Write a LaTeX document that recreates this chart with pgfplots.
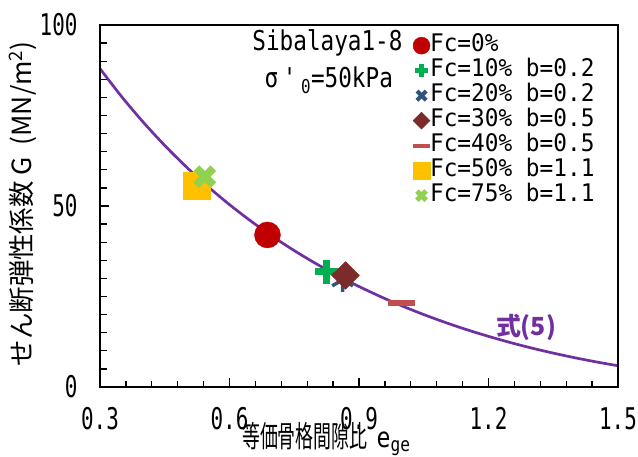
\documentclass[border=0pt]{standalone}
\usepackage{fontspec}
\setmainfont{Noto Sans CJK JP}
\newfontfamily\tickfont{DejaVu Sans Mono}[FakeStretch=0.70]
\newfontfamily\legfont{DejaVu Sans Mono}[FakeStretch=0.94]
\newfontfamily\annfont{DejaVu Sans Mono}[FakeStretch=0.83]
\newfontfamily\jpx{Noto Sans CJK JP}[FakeStretch=0.60]
\newfontfamily\jp{Noto Sans CJK JP}
\usepackage{pgfplots}
\pgfplotsset{compat=1.18}
\definecolor{cRed}{HTML}{C00000}
\definecolor{cGreen}{HTML}{00B050}
\definecolor{cBlue}{HTML}{2F547E}
\definecolor{cBrown}{HTML}{7B2C2A}
\definecolor{cDash}{HTML}{C0504D}
\definecolor{cGold}{HTML}{FFC000}
\definecolor{cLime}{HTML}{92D050}
\definecolor{cPurple}{HTML}{7030A0}
\begin{document}
\begin{tikzpicture}
\begin{axis}[
  scale only axis, width=518bp, height=362bp,
  xmin=0.3, xmax=1.5, ymin=0, ymax=100,
  axis on top,
  xtick={0.3,0.6,0.9,1.2,1.5},
  xticklabels={0.3,0.6,0.9,1.2,1.5},
  ytick={0,50,100}, yticklabels={0,50,100},
  minor x tick num=4, minor y tick num=9,
  tick align=inside, tick pos=left,
  major tick length=9bp, minor tick length=6bp,
  axis line style={line width=1.6bp},
  every tick/.append style={black, line width=1.3bp},
  ticklabel style={font=\tickfont\fontsize{30}{32}\selectfont},
  yticklabel style={xshift=-19bp},
  xticklabel style={yshift=-17bp},
  xlabel={\jpx\fontsize{30}{32}\selectfont 等価骨格間隙比\hspace{0.3em}{\annfont\fontsize{28}{30}\selectfont e\textsubscript{ge}}},
  ylabel={\jp\fontsize{26.5}{28}\selectfont せん断弾性係数\ G\ \ (MN/m\textsuperscript{2})},
  xlabel style={at={(rel axis cs:0.274,-0.1685)},anchor=base west, inner sep=0pt},
  ylabel style={at={(rel axis cs:-0.149,0.506)},anchor=center},
  clip=false,
  legend style={at={(rel axis cs:0.604,0.978)}, anchor=north west, draw=none, fill=none,
    font=\legfont\fontsize{24.3}{25}\selectfont, inner sep=0pt, row sep=0pt,
    nodes={inner sep=0pt, text height=18bp, text depth=7bp}},
  legend cell align=left,
]
\addplot[cPurple, line width=2.7bp, smooth, forget plot] coordinates {
(0.30,87.96)(0.35,80.23)(0.40,73.18)(0.45,66.72)(0.50,60.80)(0.55,55.37)
(0.60,50.38)(0.65,45.79)(0.70,41.57)(0.75,37.68)(0.80,34.10)(0.85,30.80)
(0.90,27.76)(0.95,24.96)(1.00,22.38)(1.05,20.01)(1.10,17.83)(1.15,15.82)
(1.20,13.99)(1.25,12.30)(1.30,10.76)(1.35,9.36)(1.40,8.08)(1.45,6.92)(1.50,5.87)};
% tick marks along the frame (absolute axis coordinates)
\pgfplotsinvokeforeach{0.36,0.42,0.48,0.54,0.66,0.72,0.78,0.84,0.96,1.02,1.08,1.14,1.26,1.32,1.38,1.44}{
  \draw[black, line width=1.3bp] (axis cs:#1,0) -- (axis cs:#1,1.66);}
\pgfplotsinvokeforeach{0.6,0.9,1.2}{
  \draw[black, line width=1.3bp] (axis cs:#1,0) -- (axis cs:#1,2.49);}
\pgfplotsinvokeforeach{5,10,15,20,25,30,35,40,45,55,60,65,70,75,80,85,90,95}{
  \draw[black, line width=1.3bp] (axis cs:0.3,#1) -- (axis cs:0.3162,#1);}
\draw[black, line width=1.3bp] (axis cs:0.3,50) -- (axis cs:0.3208,50);
% data points
\addplot[only marks, mark=*, mark size=13bp, color=cRed, forget plot] coordinates {(0.688,42.0)};
\addplot[only marks, mark=+, mark size=12bp, color=cGreen, line width=6.5bp, forget plot] coordinates {(0.825,31.9)};
\addplot[only marks, mark=asterisk, mark size=12bp, color=cBlue, line width=3.5bp, forget plot] coordinates {(0.862,29.6)};
\addplot[only marks, mark=square*, mark size=9.8bp, color=cBrown, mark options={rotate=45}, forget plot] coordinates {(0.869,30.8)};
\addplot[only marks, mark=-, mark size=13.5bp, color=cDash, line width=6bp, forget plot] coordinates {(0.999,23.3)};
\addplot[only marks, mark=square*, mark size=13.5bp, color=cGold, forget plot] coordinates {(0.524,55.7)};
\addplot[only marks, mark=x, mark size=12bp, color=cLime, line width=8bp, forget plot] coordinates {(0.543,58.1)};
% legend images
\addlegendimage{only marks, mark=*, mark size=8.5bp, color=cRed}
\addlegendentry{Fc=0\%}
\addlegendimage{only marks, mark=+, mark size=6.5bp, color=cGreen, line width=4.5bp}
\addlegendentry{Fc=10\% b=0.2}
\addlegendimage{only marks, mark=x, mark size=6.5bp, color=cBlue, line width=4bp}
\addlegendentry{Fc=20\% b=0.2}
\addlegendimage{only marks, mark=square*, mark size=6bp, color=cBrown, mark options={rotate=45}}
\addlegendentry{Fc=30\% b=0.5}
\addlegendimage{only marks, mark=-, mark size=8.5bp, color=cDash, line width=4bp}
\addlegendentry{Fc=40\% b=0.5}
\addlegendimage{only marks, mark=square*, mark size=8.5bp, color=cGold}
\addlegendentry{Fc=50\% b=1.1}
\addlegendimage{only marks, mark=x, mark size=6.5bp, color=cLime, line width=5bp}
\addlegendentry{Fc=75\% b=1.1}
\node[font=\annfont\fontsize{27.4}{29}\selectfont] at (axis cs:0.827,95.0) {Sibalaya1-8};
\node[font=\annfont\fontsize{27.4}{29}\selectfont] at (axis cs:0.830,84.8) {σ\,'\,\textsubscript{0}=50kPa};
\node[font=\jp\fontsize{25}{27}\selectfont\bfseries, text=cPurple] at (axis cs:1.287,16.6) {式(5)};
\coordinate (bbl) at (rel axis cs:-0.193,-0.193);
\coordinate (btr) at (rel axis cs:1.0386,1.069);
\end{axis}
\pgfresetboundingbox
\path[use as bounding box] (bbl) rectangle (btr);
\end{tikzpicture}
\end{document}
